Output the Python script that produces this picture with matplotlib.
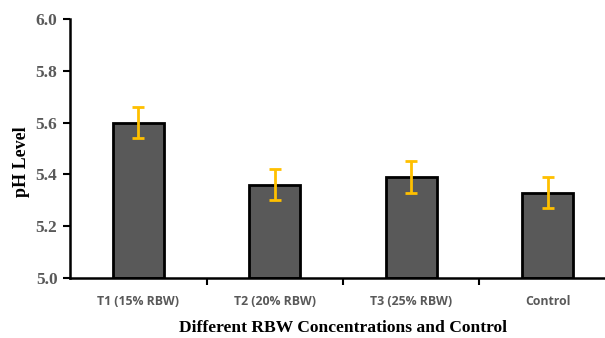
import matplotlib
matplotlib.use("Agg")
import matplotlib.pyplot as plt

categories = ["T1 (15% RBW)", "T2 (20% RBW)", "T3 (25% RBW)", "Control"]
ph_values = [5.60, 5.36, 5.39, 5.33]
errors = [0.06, 0.06, 0.06, 0.06]
yticks = [5.0, 5.2, 5.4, 5.6, 5.8, 6.0]

fig = plt.figure(figsize=(6.05, 3.38), dpi=100)
ax = fig.add_axes([70/605, 1-278/338, 546/605, 259/338])

x = list(range(len(categories)))
ax.bar(x, [v - 5.0 for v in ph_values], bottom=5.0, width=0.375, color="#595959",
       edgecolor="black", linewidth=2, zorder=2)
ax.errorbar(x, ph_values, yerr=errors, fmt="none", ecolor="#FFC000",
            elinewidth=2, capsize=4, capthick=2, zorder=3)

ax.set_xlim(-0.5, len(categories) - 0.5)
ax.set_ylim(5.0, 6.0)
ax.set_yticks(yticks)
ax.set_yticklabels([f"{t:.1f}" for t in yticks], fontfamily="Liberation Serif",
                   fontweight="bold", fontsize=12.5, color="#595959")
ax.set_xticks(x)
ax.set_xticklabels(categories, fontfamily="Open Sans", fontweight="bold",
                   fontsize=8.8, color="#595959")
ax.tick_params(axis="x", length=0, pad=12)
ax.set_xticks([i + 0.5 for i in range(len(categories))], minor=True)
ax.tick_params(axis="x", which="minor", length=5, width=1.5, direction="out")
ax.tick_params(axis="y", length=5, width=1.5, direction="out", pad=4)

for s in ["top", "right"]:
    ax.spines[s].set_visible(False)
for s in ["left", "bottom"]:
    ax.spines[s].set_linewidth(1.8)

ax.set_ylabel("pH Level", fontfamily="Liberation Serif", fontweight="bold",
              fontsize=13, color="black")
ax.yaxis.set_label_coords(-(70-30)/546, 0.45)
fig.text(343/605, 1-328/338, "Different RBW Concentrations and Control",
         fontfamily="Liberation Serif", fontweight="bold", fontsize=12.6,
         ha="center", va="center", color="black")

fig.savefig("out.png", dpi=100)
